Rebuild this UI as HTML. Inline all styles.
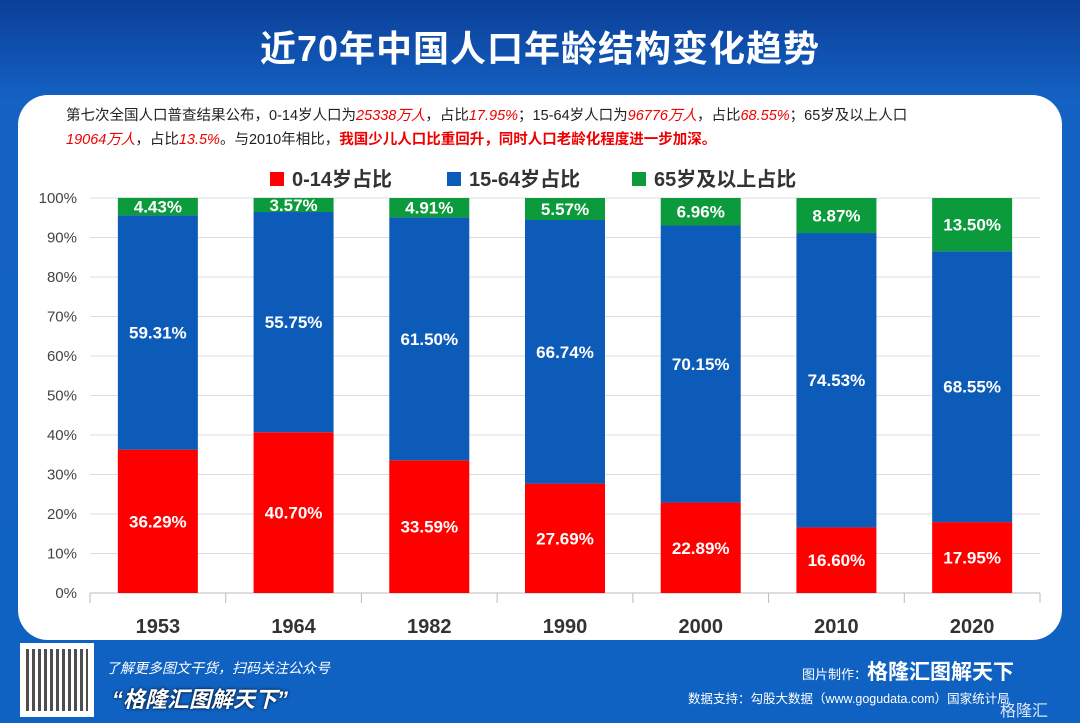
<!DOCTYPE html>
<html><head><meta charset="utf-8">
<style>
body{margin:0;width:1080px;height:723px;overflow:hidden;font-family:"Liberation Sans","Noto Sans CJK SC",sans-serif;}
#bg{position:absolute;left:0;top:0;width:1080px;height:723px;background:linear-gradient(180deg,#0b3f98 0%,#1462c4 14%,#0f62c2 100%);}
#title{position:absolute;left:0;top:20px;width:1080px;text-align:center;color:#fff;font-size:36px;font-weight:bold;letter-spacing:1px;}
#card{position:absolute;left:18px;top:95px;width:1044px;height:545px;background:#fff;border-radius:30px;}
#desc{position:absolute;left:66px;top:104px;width:970px;font-size:14.5px;line-height:24px;color:#222;}
.r{color:#e00;font-style:italic;}
.rb{color:#e00;font-weight:bold;}
#chart{position:absolute;left:0;top:0;}
.ft{position:absolute;color:#fff;}
</style></head><body>
<div id="bg"></div>
<div id="title">近70年中国人口年龄结构变化趋势</div>
<div id="card"></div>
<div id="desc">第七次全国人口普查结果公布，0-14岁人口为<span class="r">25338万人</span>，占比<span class="r">17.95%</span>；15-64岁人口为<span class="r">96776万人</span>，占比<span class="r">68.55%</span>；65岁及以上人口<br><span class="r">19064万人</span>，占比<span class="r">13.5%</span>。与2010年相比，<span class="rb">我国少儿人口比重回升，同时人口老龄化程度进一步加深。</span></div>
<svg id="chart" width="1080" height="723"></svg>
<div class="ft" style="left:20px;top:643px;width:74px;height:74px;background:#fff;">
<div style="margin:6px;width:62px;height:62px;background:repeating-linear-gradient(90deg,#222 0 3px,#fff 3px 6px),#222;opacity:.8"></div></div>
<div class="ft" style="left:106px;top:658px;font-size:14px;font-style:italic;">了解更多图文干货，扫码关注公众号</div>
<div class="ft" style="left:112px;top:682px;font-size:22px;font-weight:bold;font-style:italic;color:#fff;text-shadow:0 0 3px #000;">“格隆汇图解天下”</div>
<div class="ft" style="left:802px;top:656px;font-size:13px;">图片制作：<span style="font-size:21px;font-weight:bold;">格隆汇图解天下</span></div>
<div class="ft" style="left:688px;top:688px;font-size:12.5px;">数据支持：勾股大数据（www.gogudata.com）国家统计局</div>
<div class="ft" style="left:1000px;top:697px;font-size:16px;opacity:.85">格隆汇</div>
<script>
const categories=["1953","1964","1982","1990","2000","2010","2020"];
const young=[36.29,40.70,33.59,27.69,22.89,16.60,17.95];
const working=[59.31,55.75,61.50,66.74,70.15,74.53,68.55];
const elderly=[4.43,3.57,4.91,5.57,6.96,8.87,13.50];
const yTicks=[0,10,20,30,40,50,60,70,80,90,100];
const seriesNames=["0-14岁占比","15-64岁占比","65岁及以上占比"];
const colors=["#ff0000","#0d5bb8","#0b9a3c"];
const NS="http://www.w3.org/2000/svg";
const svg=document.getElementById('chart');
const L=90,R=1040,T=198,B=593,bw=80;
const band=(R-L)/categories.length;
const x=i=>L+band*(i+0.5);
const y=v=>B-(B-T)*v/100;
function mk(tag,attrs,txt){const e=document.createElementNS(NS,tag);for(const k in attrs)e.setAttribute(k,attrs[k]);if(txt!==undefined)e.textContent=txt;svg.appendChild(e);return e;}
yTicks.forEach(t=>{
 const g=mk('line',{x1:L,x2:R,y1:y(t),y2:y(t),stroke:t===0?'#bbb':'#ddd','stroke-width':1});
 
 
 const lb=mk('text',{x:77,y:y(t)+5,'text-anchor':'end','font-size':15,fill:'#444','font-family':'Liberation Sans'},t+'%');
 
 
});
for(let i=0;i<=categories.length;i++){
 const tk=mk('line',{x1:L+band*i,x2:L+band*i,y1:B,y2:B+10,stroke:'#bbb'});
 
 
}
const data=[young,working,elderly];
categories.forEach((c,i)=>{
 let base=0;
 data.forEach((s,k)=>{
  const v=s[i];
  const r=mk('rect',{x:x(i)-bw/2,y:y(base+v),width:bw,height:y(base)-y(base+v),fill:colors[k]});
  
  
  const t=mk('text',{x:x(i),y:(y(base)+y(base+v))/2+6,'text-anchor':'middle','font-size':17,'font-weight':'bold',fill:'#fff','font-family':'Liberation Sans'},v.toFixed(2)+'%');
  
  
  base+=v;
 });
 const cl=mk('text',{x:x(i),y:633,'text-anchor':'middle','font-size':20,'font-weight':'bold',fill:'#333','font-family':'Liberation Sans'},c);
 
 
});
const lx=[270,447,632];
seriesNames.forEach((n,k)=>{
 const s=mk('rect',{x:lx[k],y:172,width:14,height:14,fill:colors[k]});
 
 
 const t=mk('text',{x:lx[k]+22,y:186,'font-size':20,'font-weight':'bold',fill:'#333','font-family':'Liberation Sans, Noto Sans CJK SC, sans-serif'},n);
 
 
});
</script>
</body></html>
